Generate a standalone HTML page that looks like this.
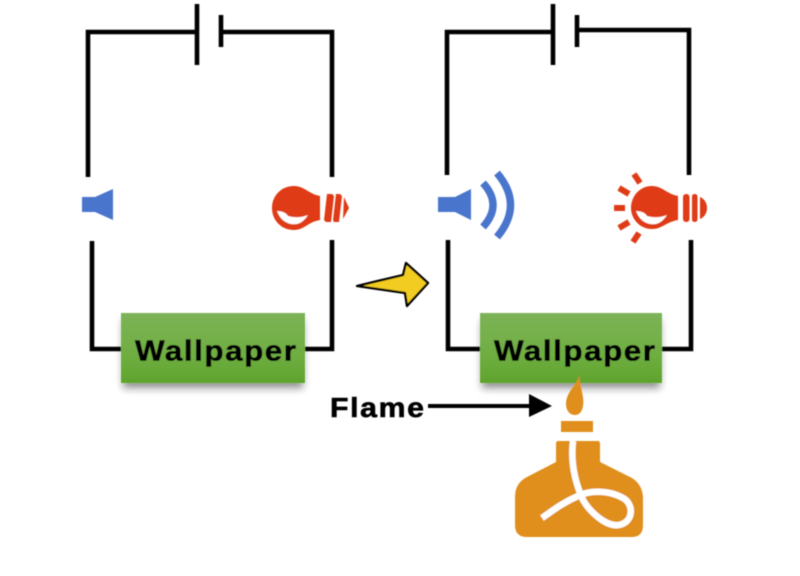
<!DOCTYPE html>
<html>
<head>
<meta charset="utf-8">
<style>
html,body{margin:0;padding:0;background:#fff;width:800px;height:576px;overflow:hidden}
svg{display:block}
text{font-family:"Liberation Sans",sans-serif;font-weight:bold;fill:#050505;stroke:#050505;stroke-width:.6}
</style>
</head>
<body>
<svg width="800" height="576" viewBox="0 0 800 576" xmlns="http://www.w3.org/2000/svg">
<defs>
<linearGradient id="g" x1="0" y1="0" x2="0" y2="1">
<stop offset="0" stop-color="#7cb356"/>
<stop offset="0.6" stop-color="#6fae42"/>
<stop offset="1" stop-color="#5fa32c"/>
</linearGradient>
<filter id="b" x="-5%" y="-5%" width="110%" height="110%"><feGaussianBlur stdDeviation="0.6"/></filter>
<filter id="s" x="-10%" y="-20%" width="120%" height="150%"><feGaussianBlur stdDeviation="4"/></filter>
</defs>
<g filter="url(#b)">
<!-- left circuit -->
<g fill="none" stroke="#000" stroke-width="4.6">
<path d="M88 177V32H197M197 4V65M221 15V47M221 32H332V177M92 241V349H121M305 349H332V240"/>
<!-- right circuit -->
<path d="M447 175V32H553M553 4V65M577 15V47M577 30H689V175M448 240V349H480M662 349H691V240"/>
</g>
<!-- boxes -->
<rect x="123" y="320" width="180" height="68" fill="#333" opacity=".55" filter="url(#s)"/>
<rect x="482" y="320" width="178" height="68" fill="#333" opacity=".55" filter="url(#s)"/>
<rect x="121" y="313" width="184" height="70" fill="url(#g)"/>
<rect x="480" y="313" width="182" height="70" fill="url(#g)"/>
<g transform="translate(135,360.5) scale(1.08,1)"><text x="0" y="0" font-size="29" textLength="149">Wallpaper</text></g>
<g transform="translate(494,360.5) scale(1.08,1)"><text x="0" y="0" font-size="29" textLength="149">Wallpaper</text></g>
<!-- left speaker -->
<path d="M82 197H95L113 189V220L95 212H82Z" fill="#4a75cc"/>
<!-- right speaker -->
<path d="M438 197H455L471 189V220L455 212H438Z" fill="#4a75cc"/>
<path d="M483 183Q503 205 483 227" fill="none" stroke="#4a75cc" stroke-width="7.5"/>
<path d="M497 173Q524 205 497 237" fill="none" stroke="#4a75cc" stroke-width="7.5"/>
<!-- left bulb -->
<g fill="#df3b12">
<path d="M294 186C304 186 309 194 320 196V220C308 222 304 230 294 230C281 230 272 220 272 208C272 196 281 186 294 186Z"/>
<path d="M327 194H332L334 196L331 222H326L324 220Z"/>
<path d="M336 194H340L342 196L339 222H334L333 220Z"/>
<path d="M344 197L349 208L343 219Z"/>
</g>
<path d="M277 211Q285 211 288 216Q298 219 308 215Q301 226 291 224Q281 222 277 211Z" fill="#fff"/>
<!-- right bulb -->
<g fill="#df3b12">
<path d="M652 186C662 186 667 194 678 196V220C666 222 662 229 652 229C640 229 631 219 631 208C631 196 640 186 652 186Z"/>
<rect x="683" y="194" width="6.5" height="28" rx="3"/>
<rect x="692" y="194" width="5.5" height="28" rx="2.5"/>
<path d="M700 197C705 199 707 204 707 208C707 212 705 217 700 219Z"/>
</g>
<path d="M636 211Q644 211 647 216Q657 219 667 215Q660 226 650 224Q640 222 636 211Z" fill="#fff"/>
<g stroke="#df3b12" stroke-width="6" fill="none">
<path d="M634 174L640 183M619 188L629 194M614 208H625M619 228L629 222M633 242L639 233"/>
</g>
<!-- yellow arrow -->
<path d="M357 286L403 275L406 263L428 283L407 306L405 293Z" fill="#f3cc22" stroke="#000" stroke-width="2.4" stroke-linejoin="round"/>
<!-- flame label -->
<g transform="translate(330,417) scale(1.08,1)"><text x="0" y="0" font-size="28" textLength="87">Flame</text></g>
<path d="M428 406H532" stroke="#000" stroke-width="4"/>
<path d="M529 394L552 406L529 417Z" fill="#000"/>
<!-- burner -->
<g fill="#e08e1e">
<path d="M580 373C578 384 585 395 583 406C582 413 578 415 575 415C570 415 566 411 566 404C566 391 578 385 580 373Z"/>
<rect x="561" y="421" width="32" height="11"/>
<path d="M558 441H598Q600 441 600 444V462L630 477Q642 483 643 497V525Q643 537 632 537H527Q515 537 515 525V497Q515 483 527 477L556 462V444Q556 441 558 441Z"/>
</g>
<path d="M573 441C571 458 573 478 583 500C590 512 606 527 619 525C634 522 634 504 623 498C609 490 590 490 578 496C560 504 551 512 542 518" fill="none" stroke="#fff" stroke-width="6.5"/>
</g>
</svg>
</body>
</html>
